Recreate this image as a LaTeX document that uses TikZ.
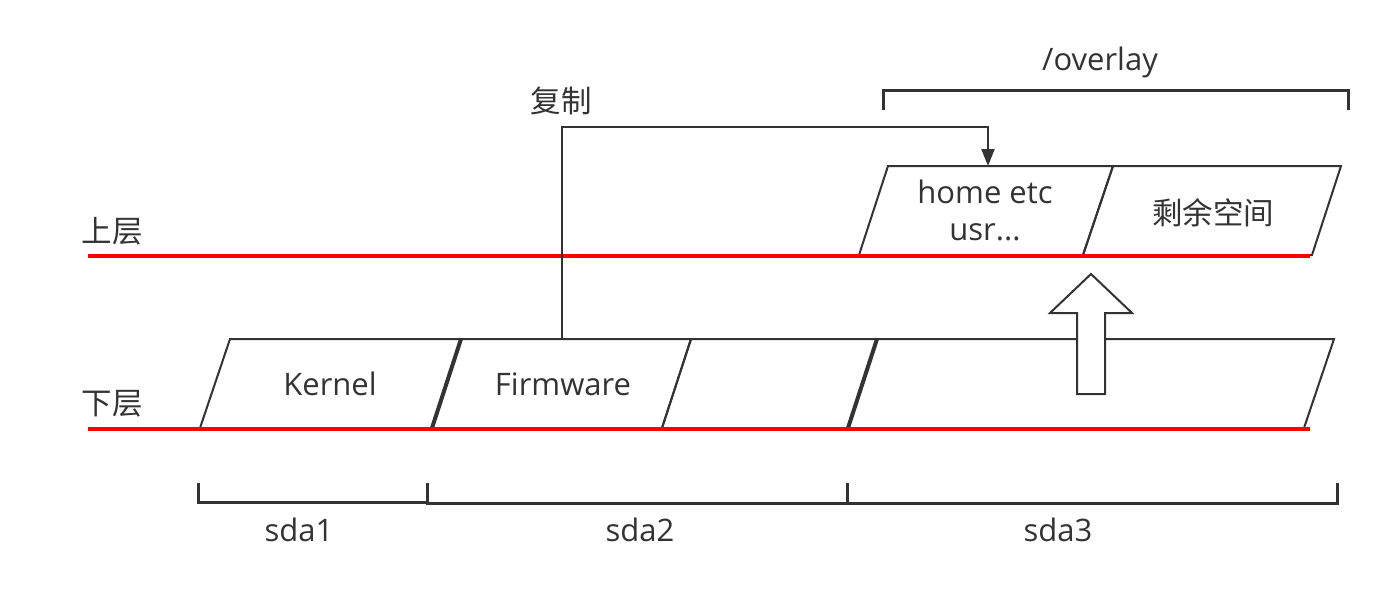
\documentclass[tikz,border=0pt]{standalone}
\usepackage{fontspec}
\setmainfont{Open Sans}
\newfontfamily\cjk{Noto Sans CJK SC}
\usetikzlibrary{arrows.meta}
\definecolor{dk}{HTML}{333333}
\begin{document}
\begin{tikzpicture}[x=1pt,y=-1pt,
 box/.style={draw=dk, line width=2pt, line join=miter},
 thickedge/.style={draw=dk, line width=4pt},
 layer/.style={draw=red, line width=4pt},
 lbl/.style={font=\fontsize{31}{34}\selectfont, text=dk, inner sep=0pt},
 cjklbl/.style={font=\cjk\fontsize{30.5}{33}\selectfont, text=dk, inner sep=0pt},
 bracket/.style={draw=dk, line width=3pt},
 conn/.style={draw=dk, line width=2pt, -{Triangle[length=17pt,width=13pt]}}]
\useasboundingbox[fill=white] (0,0) rectangle (1382,589);
% lower layer partitions
\draw[box] (200,428) -- (230,339) -- (461,339) -- (432,428) -- cycle;
\draw[box] (432,428) -- (461,339) -- (691,339) -- (662,428) -- cycle;
\draw[box] (662,428) -- (691,339) -- (877,339) -- (848,428) -- cycle;
\draw[box] (848,428) -- (877,339) -- (1334,339) -- (1304,428) -- cycle;
\draw[thickedge] (432,428) -- (461,339);
\draw[thickedge] (848,428) -- (877,339);
% upper layer
\draw[box] (859,255) -- (888,166) -- (1113,166) -- (1083,255) -- cycle;
\draw[box] (1083,255) -- (1113,166) -- (1341,166) -- (1312,255) -- cycle;
% red layer lines
\draw[layer] (88,256) -- (1310,256);
\draw[layer] (88,429) -- (1310,429);
% texts
\node[cjklbl] (up) at (112,231) {上层};
\node[cjklbl] (down) at (112,404) {下层};
\node[lbl] (kernel) at (330,384) {Kernel};
\node[lbl] (fw) at (563,384) {Firmware};
\node[lbl] (home1) at (985,192) {home etc};
\node[lbl] (home2) at (985,232) {usr...};
\node[cjklbl] (rest) at (1213,213) {剩余空间};
\node[cjklbl] (copy) at (561,101) {复制};
\node[lbl] (ovl) at (1100,62) {/overlay};
\node[lbl] (s1) at (299,530) {sda1};
\node[lbl] (s2) at (640,530) {sda2};
\node[lbl] (s3) at (1058,530) {sda3};
% copy connector
\coordinate (fwtop) at (562,339);
\coordinate (hometop) at (988,166);
\draw[conn] (fwtop) -- (562,127) -| (hometop);
% growth arrow
\draw[box, fill=white] (1091,274) -- (1132,313) -- (1105,313) -- (1105,394) -- (1077,394) -- (1077,313) -- (1050,313) -- cycle;
% brackets
\draw[bracket] (883,110) -- (883,90) -- (1348,90) -- (1348,110);
\draw[bracket] (198,483) -- (198,502) -- (427,502) -- (427,483);
\draw[bracket] (427,483) -- (427,503) -- (847,503) -- (847,483);
\draw[bracket] (847,483) -- (847,503) -- (1337,503) -- (1337,483);
\end{tikzpicture}
\end{document}
